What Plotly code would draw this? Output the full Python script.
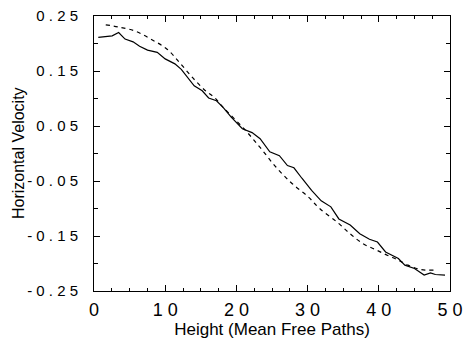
import plotly.graph_objects as go

# Solid curve (simulation)
solid_x = [0.6, 2.55, 3.46, 4.36, 5.49, 6.40, 7.52, 8.88, 10.0, 11.36, 12.26, 13.17, 14.07, 15.2,
           16.1, 17.2, 18.13, 19.27, 20.84, 22.2, 23.33, 24.69, 26.04, 27.17, 28.08, 29.2, 30.56,
           31.91, 33.27, 34.39, 35.98, 37.33, 38.69, 39.81, 40.95, 42.75, 43.66, 45.01, 46.37,
           47.26, 47.94, 49.3]
solid_y = [0.211, 0.214, 0.220, 0.208, 0.203, 0.195, 0.188, 0.184, 0.172, 0.163, 0.153, 0.138,
           0.123, 0.114, 0.101, 0.096, 0.084, 0.066, 0.045, 0.038, 0.027, 0.003, -0.004, -0.022,
           -0.026, -0.045, -0.067, -0.086, -0.097, -0.119, -0.130, -0.146, -0.156, -0.161,
           -0.179, -0.191, -0.203, -0.209, -0.221, -0.217, -0.220, -0.221]

# Dashed curve (theory)
dash_x = [1.65, 3.46, 5.72, 7.97, 10.23, 12.03, 13.85, 15.65, 16.91, 18.13, 21.07, 23.33, 25.58,
          27.85, 30.11, 31.68, 34.17, 35.98, 37.78, 39.59, 41.17, 42.75, 44.1, 45.91, 47.72]
dash_y = [0.234, 0.230, 0.223, 0.208, 0.190, 0.165, 0.138, 0.114, 0.102, 0.084, 0.045, 0.011,
          -0.025, -0.055, -0.079, -0.100, -0.125, -0.146, -0.164, -0.175, -0.185, -0.194,
          -0.203, -0.211, -0.212]

x_tickvals = [0, 10, 20, 30, 40, 50]
x_ticktext = ["0", "1 0", "2 0", "3 0", "4 0", "5 0"]
y_tickvals = [0.25, 0.15, 0.05, -0.05, -0.15, -0.25]
y_ticktext = ["0 . 2 5", "0 . 1 5", "0 . 0 5", "- 0 . 0 5", "- 0 . 1 5", "- 0 . 2 5"]

x_title = "Height (Mean Free Paths)"
y_title = "Horizontal Velocity"

FONT = "Liberation Sans, Arial, Helvetica, sans-serif"

fig = go.Figure()
fig.add_trace(go.Scatter(x=dash_x, y=dash_y, mode="lines",
                         line=dict(color="black", width=1.2, dash="4px,4px", shape="spline"),
                         showlegend=False))
fig.add_trace(go.Scatter(x=solid_x, y=solid_y, mode="lines",
                         line=dict(color="black", width=1.2),
                         showlegend=False))

axis_common = dict(
    showline=True, linecolor="black", linewidth=1, mirror="allticks",
    ticks="inside", ticklen=6, tickcolor="black", tickwidth=1,
    showgrid=False, zeroline=False, ticklabeloverflow="allow",
)

fig.update_layout(
    width=470, height=342,
    margin=dict(l=94, r=7, t=15, b=51),
    paper_bgcolor="white", plot_bgcolor="white",
    xaxis=dict(range=[0, 50], tickmode="array", tickvals=x_tickvals, ticktext=x_ticktext,
               minor=dict(dtick=2.5, tick0=0, ticks="inside", ticklen=3, tickcolor="black"),
               tickfont=dict(family=FONT, size=18, color="black"),
               ticklabelstandoff=2,
               title=dict(text=x_title, standoff=0,
                          font=dict(family=FONT, size=17, color="black")),
               **axis_common),
    yaxis=dict(range=[-0.25, 0.25], tickmode="array", tickvals=y_tickvals, ticktext=y_ticktext,
               minor=dict(dtick=0.05, tick0=0.25, ticks="inside", ticklen=4, tickcolor="black"),
               tickfont=dict(family=FONT, size=15, color="black"),
               ticklabelstandoff=12,
               **axis_common),
    annotations=[dict(text=y_title, xref="paper", yref="paper", x=-0.212, y=0.5,
                      xanchor="center", yanchor="middle", textangle=-90, showarrow=False,
                      font=dict(family=FONT, size=16, color="black"))],
)

fig.write_html("out.html")
